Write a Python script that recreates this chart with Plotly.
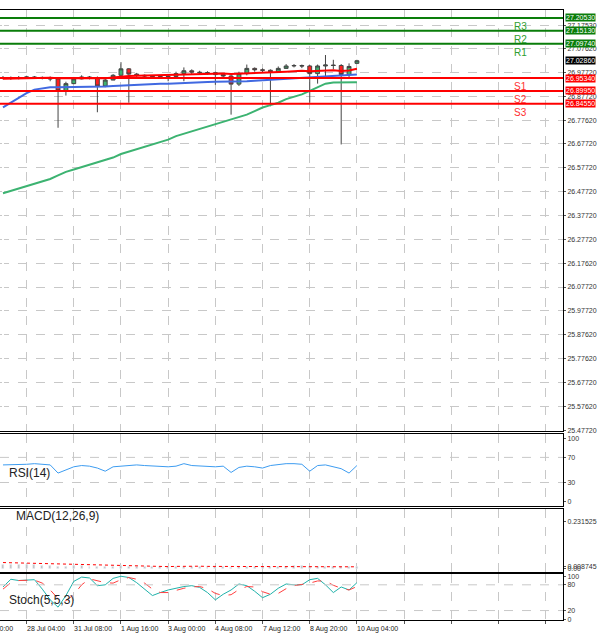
import plotly.graph_objects as go
from plotly.subplots import make_subplots

# candle data (H4 bars)
idx = list(range(46))
open_ = [26.952,26.955,26.952,26.954,26.958,26.956,26.954,26.950,26.900,26.930,
         26.950,26.958,26.954,26.920,26.945,26.965,26.992,26.970,26.965,26.962,
         26.960,26.958,26.960,26.972,26.984,26.978,26.976,26.976,26.968,26.962,
         26.928,26.972,26.994,26.988,26.986,26.980,26.994,27.004,27.006,27.004,
         26.972,27.004,27.008,27.006,26.968,27.015]
close = [26.955,26.952,26.954,26.958,26.956,26.954,26.950,26.900,26.930,26.950,
         26.958,26.954,26.920,26.945,26.965,26.992,26.970,26.965,26.962,26.960,
         26.958,26.960,26.972,26.984,26.978,26.976,26.976,26.968,26.962,26.928,
         26.972,26.994,26.988,26.986,26.980,26.994,27.004,27.006,27.004,26.972,
         27.004,27.008,27.006,26.968,27.002,27.026]
high = [26.962,26.960,26.962,26.963,26.962,26.960,26.960,26.956,26.938,26.958,
        26.965,26.962,26.960,26.950,26.970,27.020,26.995,26.975,26.968,26.966,
        26.964,26.966,26.980,26.998,26.990,26.984,26.982,26.980,26.970,26.966,
        26.980,27.010,26.998,26.994,26.990,27.002,27.012,27.012,27.010,27.008,
        27.010,27.050,27.030,27.012,27.015,27.030]
low = [26.948,26.946,26.948,26.950,26.950,26.948,26.940,26.745,26.880,26.928,
       26.948,26.948,26.810,26.915,26.950,26.960,26.850,26.958,26.955,26.952,
       26.950,26.940,26.955,26.940,26.970,26.968,26.968,26.925,26.955,26.800,
       26.920,26.965,26.980,26.978,26.835,26.975,26.995,26.998,26.995,26.850,
       26.930,26.960,26.990,26.675,26.950,27.012]

ma_red = [26.95,26.951,26.952,26.953,26.954,26.955,26.955,26.953,26.952,26.952,
          26.953,26.953,26.952,26.953,26.956,26.96,26.962,26.963,26.964,26.965,
          26.965,26.966,26.967,26.969,26.97,26.971,26.972,26.972,26.972,26.97,
          26.971,26.973,26.975,26.976,26.977,26.978,26.98,26.982,26.984,26.982,
          26.983,26.985,26.986,26.983,26.985,26.992]
ma_blue = [26.83,26.85,26.87,26.89,26.905,26.91,26.915,26.915,26.915,26.915,
           26.915,26.915,26.915,26.918,26.92,26.922,26.925,26.926,26.928,26.928,
           26.93,26.93,26.932,26.934,26.935,26.936,26.937,26.938,26.938,26.937,
           26.938,26.94,26.942,26.944,26.945,26.946,26.948,26.95,26.952,26.953,
           26.955,26.958,26.96,26.962,26.965,26.968]
ma_green = [26.47,26.48,26.49,26.50,26.51,26.52,26.53,26.545,26.56,26.57,
            26.58,26.59,26.60,26.61,26.62,26.635,26.645,26.655,26.665,26.675,
            26.685,26.695,26.71,26.72,26.73,26.74,26.75,26.76,26.77,26.78,
            26.79,26.80,26.815,26.83,26.84,26.85,26.865,26.875,26.885,26.90,
            26.915,26.93,26.935,26.935,26.935,26.936]

rsi = [58,58,58,59,60,59,58,45,50,55,57,56,53,48,55,56,57,58,57,56,
       55,55,56,60,57,56,56,55,56,46,54,56,55,53,57,59,60,60,59,48,
       57,58,55,52,45,57]
macd_hist = [0.020,0.019,0.018,0.018,0.017,0.016,0.012,0.010,0.011,0.012,
             0.012,0.011,0.008,0.009,0.010,0.012,0.010,0.010,0.009,0.009,
             0.008,0.008,0.009,0.010,0.010,0.010,0.010,0.009,0.009,0.006,
             0.008,0.010,0.010,0.010,0.009,0.010,0.011,0.012,0.012,0.009,
             0.010,0.011,0.011,0.008,0.009,0.011]
macd_sig = [0.030,0.029,0.027,0.026,0.025,0.024,0.023,0.022,0.021,0.020,
            0.019,0.018,0.017,0.016,0.015,0.014,0.013,0.012,0.011,0.010,
            0.010,0.010,0.011,0.012,0.012,0.012,0.011,0.011,0.011,0.011,
            0.010,0.010,0.010,0.010,0.010,0.010,0.010,0.011,0.012,0.012,
            0.012,0.012,0.011,0.010,0.009,0.009]
stoch_k = [75,93,90,91,92,70,45,28,55,88,98,96,78,80,95,100,97,85,70,55,
           62,68,72,76,78,74,62,45,58,68,82,78,65,50,58,72,82,80,80,92,
           95,80,62,75,68,85]
stoch_d = [70,85,90,91,91,84,68,48,43,57,80,94,90,85,84,92,97,93,84,70,
           62,62,67,72,75,76,71,60,55,57,69,76,75,64,58,60,71,78,81,84,
           89,89,79,72,68,76]

# pivot levels
res_levels = [27.2053, 27.1513, 27.0974]
res_names = ["R3", "R2", "R1"]
sup_levels = [26.9534, 26.8995, 26.8455]
sup_names = ["S1", "S2", "S3"]
last_price = 27.0286

price_ticks = [27.1753, 27.0762, 26.9772, 26.8772, 26.7762, 26.6772, 26.5772, 26.4772,
               26.3772, 26.2772, 26.1762, 26.0772, 25.9772, 25.8762, 25.7762,
               25.6772, 25.5762, 25.4772]
time_ticks = [3, 9, 15, 21, 27, 33, 39, 45]
time_labels = ["28 Jul 04:00", "31 Jul 08:00", "1 Aug 16:00", "3 Aug 00:00",
               "4 Aug 08:00", "7 Aug 12:00", "8 Aug 20:00", "10 Aug 04:00"]
first_label = "27 Jul 20:00"
x_range = [-0.38, 71.2]

fig = make_subplots(rows=4, cols=1, shared_xaxes=True, vertical_spacing=0.004,
                    row_heights=[422, 73, 63, 46])

fig.add_trace(go.Candlestick(x=idx, open=open_, high=high, low=low, close=close,
                             increasing=dict(fillcolor="#3cb371", line=dict(color="#444", width=1)),
                             decreasing=dict(fillcolor="#ff2020", line=dict(color="#444", width=1)),
                             whiskerwidth=0, showlegend=False), row=1, col=1)
fig.add_trace(go.Scatter(x=idx, y=ma_green, mode="lines", line=dict(color="#3cb371", width=2)), row=1, col=1)
fig.add_trace(go.Scatter(x=idx, y=ma_blue, mode="lines", line=dict(color="#4169e1", width=2)), row=1, col=1)
fig.add_trace(go.Scatter(x=idx, y=ma_red, mode="lines", line=dict(color="#ff0000", width=2)), row=1, col=1)

fig.add_trace(go.Scatter(x=idx, y=rsi, mode="lines", line=dict(color="#3d9cf0", width=1)), row=2, col=1)

fig.add_trace(go.Bar(x=idx, y=macd_hist, marker_color="#c0c0c0", width=0.25), row=3, col=1)
fig.add_trace(go.Scatter(x=idx, y=macd_sig, mode="lines", line=dict(color="#ff0000", width=1, dash="dot")), row=3, col=1)

fig.add_trace(go.Scatter(x=idx, y=stoch_k, mode="lines", line=dict(color="#20b2aa", width=1)), row=4, col=1)
fig.add_trace(go.Scatter(x=idx, y=stoch_d, mode="lines", line=dict(color="#ff4040", width=1, dash="dash")), row=4, col=1)

for lv in res_levels:
    fig.add_hline(y=lv, line=dict(color="#0a7d0a", width=2), row=1, col=1)
for lv in sup_levels:
    fig.add_hline(y=lv, line=dict(color="#ff0000", width=2), row=1, col=1)

ax = dict(showline=True, linecolor="black", linewidth=1, mirror=True, automargin=False,
          showgrid=True, gridcolor="#c8c8c8", griddash="dash", zeroline=False,
          side="right", tickfont=dict(size=7, color="#333", family="Liberation Sans"),
          ticks="outside", ticklen=2, tickcolor="#555")
fig.update_yaxes(**ax)
fig.update_xaxes(showline=True, linecolor="black", mirror=True, showgrid=True, automargin=False,
                 gridcolor="#c8c8c8", griddash="dash", range=x_range,
                 tickvals=list(range(-3, 72, 6)), showticklabels=False,
                 rangeslider_visible=False, ticks="")
fig.update_xaxes(ticks="outside", ticklen=3, tickcolor="#555", row=4, col=1)

fig.update_yaxes(range=[25.473, 27.2388], tickvals=price_ticks,
                 ticktext=[f"{v:.5f}" for v in price_ticks], row=1, col=1)
fig.update_yaxes(range=[-8, 108], tickvals=[0, 30, 70, 100], showgrid=False, row=2, col=1)
fig.update_yaxes(range=[-0.015, 0.2956], tickvals=[0.0, 0.008745, 0.231525],
                 ticktext=["0.00", "0.008745", "0.231525"], showgrid=False, row=3, col=1)
fig.update_yaxes(range=[-2, 105], tickvals=[0, 20, 80, 100], showgrid=False, row=4, col=1)

# dashed level guides on indicator panels
for yv in [30, 70]:
    fig.add_hline(y=yv, line=dict(color="#c8c8c8", width=1, dash="dash"), row=2, col=1)
for yv in [20, 80]:
    fig.add_hline(y=yv, line=dict(color="#c8c8c8", width=1, dash="dash"), row=4, col=1)

anns = []
for lv, nm in zip(res_levels, res_names):
    anns.append(dict(x=1.003, xref="paper", y=lv, yref="y", text=f"{lv:.5f}", showarrow=False,
                     xanchor="left", bgcolor="#0a7d0a", font=dict(color="white", size=7), borderpad=0))
    anns.append(dict(x=0.94, xref="paper", y=lv, yref="y", text=nm, showarrow=False,
                     yanchor="top", yshift=-1, font=dict(color="#2e9e2e", size=10)))
for lv, nm in zip(sup_levels, sup_names):
    anns.append(dict(x=1.003, xref="paper", y=lv, yref="y", text=f"{lv:.5f}", showarrow=False,
                     xanchor="left", bgcolor="#ff0000", font=dict(color="white", size=7), borderpad=0))
    anns.append(dict(x=0.94, xref="paper", y=lv, yref="y", text=nm, showarrow=False,
                     yanchor="top", yshift=-1, font=dict(color="#ff3030", size=10)))
anns.append(dict(x=1.003, xref="paper", y=last_price, yref="y", text=f"{last_price:.5f}",
                 showarrow=False, xanchor="left", bgcolor="black",
                 font=dict(color="white", size=7), borderpad=0))
for t, lab in zip(time_ticks, time_labels):
    anns.append(dict(x=t, xref="x4", y=0, yref="paper", text=lab, showarrow=False,
                     xanchor="left", yanchor="top", yshift=-3, xshift=-2,
                     font=dict(size=7, color="#222")))
# first date label sits mostly off the left edge
anns.append(dict(x=0, xref="paper", y=0, yref="paper", text=first_label, showarrow=False,
                 xanchor="left", yanchor="top", yshift=-3, xshift=-27,
                 font=dict(size=7, color="#222")))
anns.append(dict(x=0.012, xref="paper", y=45, yref="y2", text="RSI(14)", showarrow=False,
                 xanchor="left", font=dict(size=12, color="#222")))
anns.append(dict(x=0.025, xref="paper", y=0.26, yref="y3", text="MACD(12,26,9)", showarrow=False,
                 xanchor="left", font=dict(size=12, color="#222")))
anns.append(dict(x=0.012, xref="paper", y=45, yref="y4", text="Stoch(5,5,3)", showarrow=False,
                 xanchor="left", font=dict(size=12, color="#222")))

fig.update_layout(width=600, height=642, margin=dict(l=0, r=37, t=10, b=22),
                  plot_bgcolor="white", paper_bgcolor="white", showlegend=False,
                  annotations=anns, font=dict(family="Liberation Sans"), bargap=0)

# remove default page margin so the figure sits at the window origin
fig.write_html("out.html", config={"displayModeBar": False},
               post_script="document.body.style.margin='0px';")
